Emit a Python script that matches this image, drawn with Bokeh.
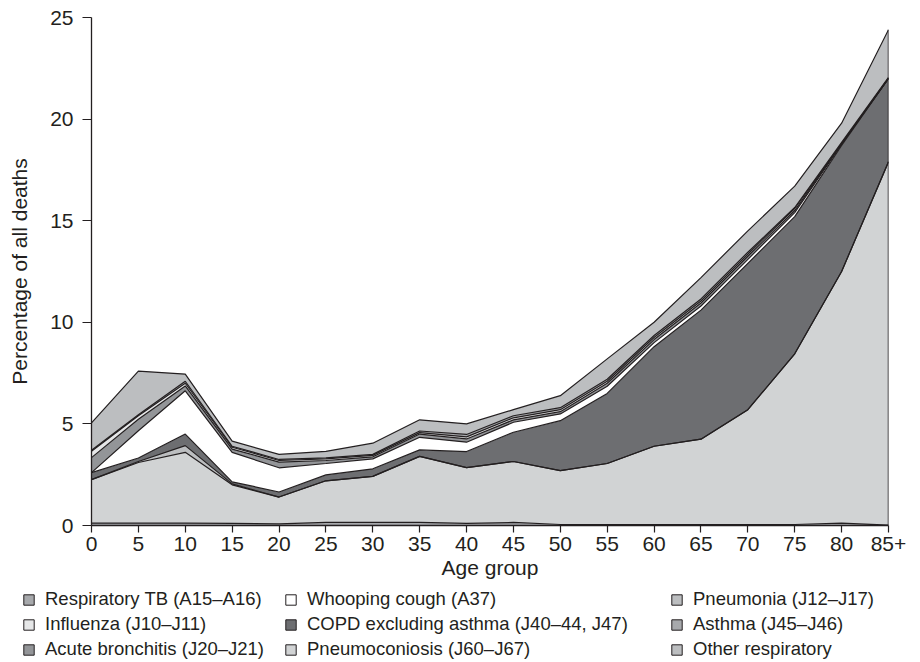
from bokeh.plotting import figure
from bokeh.layouts import column
from bokeh.models import (ColumnDataSource, Range1d, FixedTicker, Legend, LegendItem,
                          CDSView, IndexFilter)
from bokeh.transform import stack
from bokeh.embed import file_html
from bokeh.resources import INLINE

# ---------------- data (percentage of all deaths, by age group) ----------------
age_groups = [0, 5, 10, 15, 20, 25, 30, 35, 40, 45, 50, 55, 60, 65, 70, 75, 80, 85]
age_labels = ["0", "5", "10", "15", "20", "25", "30", "35", "40", "45", "50", "55",
              "60", "65", "70", "75", "80", "85+"]
y_ticks = [0, 5, 10, 15, 20, 25]

respiratory_tb = [0.12, 0.12, 0.12, 0.10, 0.08, 0.15, 0.15, 0.15, 0.10, 0.15, 0.05, 0.05,
                  0.05, 0.05, 0.05, 0.05, 0.12, 0.02]
pneumoconiosis = [2.14, 2.98, 3.48, 1.90, 1.32, 2.05, 2.27, 3.25, 2.75, 3.00, 2.65, 3.00,
                  3.85, 4.20, 5.65, 8.40, 12.38, 17.88]
pneumonia = [0.00, 0.05, 0.33, 0.05, 0.00, 0.00, 0.00, 0.00, 0.00, 0.00, 0.00, 0.00,
             0.00, 0.00, 0.00, 0.00, 0.00, 0.00]
copd = [0.34, 0.17, 0.57, 0.10, 0.25, 0.29, 0.37, 0.32, 0.79, 1.44, 2.46, 3.45,
        4.90, 6.35, 7.20, 6.75, 6.20, 4.10]
whooping_cough = [0.00, 1.34, 2.13, 1.45, 1.19, 0.56, 0.49, 0.62, 0.46, 0.49, 0.33, 0.35,
                  0.20, 0.20, 0.20, 0.20, 0.05, 0.00]
acute_bronchitis = [0.74, 0.57, 0.24, 0.16, 0.28, 0.15, 0.10, 0.16, 0.16, 0.12, 0.11, 0.15,
                    0.15, 0.15, 0.15, 0.10, 0.05, 0.00]
influenza = [0.31, 0.17, 0.13, 0.09, 0.08, 0.08, 0.07, 0.07, 0.10, 0.10, 0.10, 0.10,
             0.10, 0.10, 0.10, 0.10, 0.00, 0.00]
asthma = [0.05, 0.05, 0.10, 0.05, 0.05, 0.05, 0.05, 0.08, 0.12, 0.10, 0.10, 0.10,
          0.10, 0.10, 0.10, 0.05, 0.05, 0.05]
other_respiratory = [1.35, 2.15, 0.35, 0.25, 0.25, 0.32, 0.55, 0.55, 0.52, 0.30, 0.59, 1.00,
                     0.65, 1.05, 1.05, 1.05, 0.95, 2.35]

# stacking order (bottom -> top)
keys = ["tb", "pneumoconiosis", "pneumonia", "copd", "whooping", "bronchitis",
        "influenza", "asthma", "other"]
names = {
    "tb": "Respiratory TB (A15\u2013A16)",
    "influenza": "Influenza (J10\u2013J11)",
    "bronchitis": "Acute bronchitis (J20\u2013J21)",
    "whooping": "Whooping cough (A37)",
    "copd": "COPD excluding asthma (J40\u201344, J47)",
    "pneumoconiosis": "Pneumoconiosis (J60\u2013J67)",
    "pneumonia": "Pneumonia (J12\u2013J17)",
    "asthma": "Asthma (J45\u2013J46)",
    "other": "Other respiratory",
}
colors = {
    "tb": "#a7a9ac",
    "pneumoconiosis": "#d1d3d4",
    "pneumonia": "#bcbec0",
    "copd": "#6d6e71",
    "whooping": "#ffffff",
    "bronchitis": "#939598",
    "influenza": "#e6e7e8",
    "asthma": "#a7a9ac",
    "other": "#bcbec0",
}

src = ColumnDataSource(data=dict(
    age=age_groups,
    tb=respiratory_tb, pneumoconiosis=pneumoconiosis, pneumonia=pneumonia, copd=copd,
    whooping=whooping_cough, bronchitis=acute_bronchitis, influenza=influenza,
    asthma=asthma, other=other_respiratory,
))

FONT = "Liberation Sans"
INK = "#231f20"
W = 916
H1 = 588
H2 = 72

p = figure(width=W, height=H1, x_range=Range1d(0, 85), y_range=Range1d(0, 25),
           output_backend="svg", toolbar_location=None,
           min_border_left=91, min_border_right=W - 888, min_border_top=17,
           min_border_bottom=H1 - 525)
p.frame_align = False
p.outline_line_color = None
p.xgrid.visible = False
p.ygrid.visible = False

p.varea_stack(stackers=keys, x="age", color=[colors[k] for k in keys], source=src)
p.vline_stack(stackers=keys, x="age", line_color=INK, line_width=1.2, source=src)
# right edge of the stacked polygon
p.segment(x0="age", y0=0, x1="age", y1=stack(*keys), source=src,
          view=CDSView(filter=IndexFilter([len(age_groups) - 1])),
          line_color=INK, line_width=1.5)

# axes
p.xaxis.ticker = FixedTicker(ticks=age_groups)
p.xaxis.major_label_overrides = {a: l for a, l in zip(age_groups, age_labels)}
p.yaxis.ticker = FixedTicker(ticks=y_ticks)
p.xaxis.axis_label = "Age group"
p.yaxis.axis_label = "Percentage of all deaths"
for ax in (p.xaxis, p.yaxis):
    ax.minor_tick_line_color = None
    ax.major_tick_in = 0
    ax.axis_line_color = INK
    ax.axis_line_width = 1.3
    ax.major_tick_line_color = INK
    ax.major_tick_line_width = 1.2
    ax.major_label_text_font = FONT
    ax.major_label_text_font_size = "21px"
    ax.major_label_text_color = INK
    ax.axis_label_text_font = FONT
    ax.axis_label_text_font_size = "21px"
    ax.axis_label_text_font_style = "normal"
    ax.axis_label_text_color = INK
p.xaxis.major_tick_out = 7
p.xaxis.major_label_standoff = 4
p.xaxis.axis_label_standoff = 2
p.yaxis.major_tick_out = 9
p.yaxis.major_label_standoff = 9
p.yaxis.axis_label_standoff = 16

# ---------------- legend strip below the chart ----------------
lp = figure(width=W, height=H2, x_range=Range1d(0, 1), y_range=Range1d(0, 1),
            x_axis_location=None, y_axis_location=None,
            output_backend="svg", toolbar_location=None, min_border=0)
lp.frame_align = False
lp.xgrid.visible = False
lp.ygrid.visible = False
lp.outline_line_color = None

nan = float("nan")
swatch = {}
for k in keys:
    # legend-only renderer (no visible mark)
    swatch[k] = lp.quad(left=[nan], right=[nan], top=[nan], bottom=[nan],
                        fill_color=colors[k], line_color=INK, line_width=1)

legend_columns = [
    (["tb", "influenza", "bronchitis"], 22),
    (["whooping", "copd", "pneumoconiosis"], 284),
    (["pneumonia", "asthma", "other"], 670),
]
for col_keys, xoff in legend_columns:
    lg = Legend(items=[LegendItem(label=names[k], renderers=[swatch[k]]) for k in col_keys],
                location=(xoff, 0), orientation="vertical",
                glyph_width=13, glyph_height=13, label_height=20, spacing=3,
                padding=0, margin=0, border_line_color=None, background_fill_alpha=0,
                label_text_font=FONT, label_text_font_size="18.5px", label_text_color=INK,
                label_standoff=10)
    lp.add_layout(lg, "center")

layout = column(p, lp, spacing=0)
open("out.html", "w").write(file_html(layout, INLINE))
